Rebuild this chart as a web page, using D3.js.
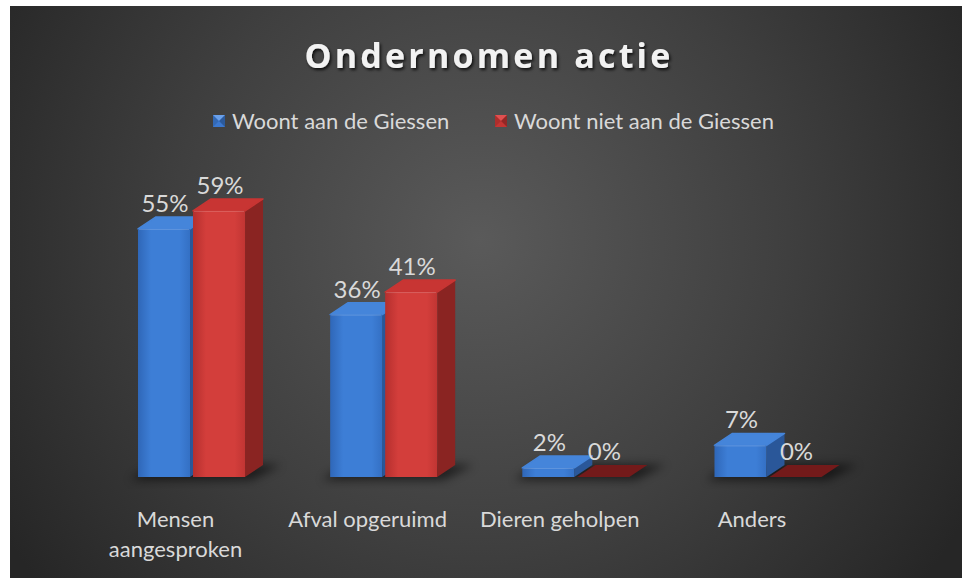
<!DOCTYPE html>
<html><head><meta charset="utf-8">
<script src="https://cdn.jsdelivr.net/npm/d3@7/dist/d3.min.js"></script>
<style>html,body{margin:0;padding:0;background:#fff;}svg{display:block;}</style>
</head><body><svg id="c" width="963" height="578"></svg>
<script>
const title = "Ondernomen actie";
const categories = [["Mensen","aangesproken"],["Afval opgeruimd"],["Dieren geholpen"],["Anders"]];
const seriesNames = ["Woont aan de Giessen","Woont niet aan de Giessen"];
const woontAan = [55, 36, 2, 7];
const woontNiet = [59, 41, 0, 0];
const seriesValues = [woontAan, woontNiet];

const FONT = "Lato, 'Liberation Sans', sans-serif";
const svg = d3.select("#c");
const defs = svg.append("defs");
const bg = defs.append("radialGradient").attr("id","bg").attr("gradientUnits","userSpaceOnUse")
  .attr("cx",480).attr("cy",240).attr("r",560);
bg.append("stop").attr("offset","0").attr("stop-color","#5a5a5a");
bg.append("stop").attr("offset","0.55").attr("stop-color","#3f3f3f");
bg.append("stop").attr("offset","1").attr("stop-color","#262626");
const blur = defs.append("filter").attr("id","blur").attr("x","-50%").attr("y","-50%").attr("width","200%").attr("height","200%");
blur.append("feGaussianBlur").attr("stdDeviation",5);
const ts = defs.append("filter").attr("id","tshadow").attr("x","-10%").attr("y","-30%").attr("width","120%").attr("height","160%");
ts.append("feDropShadow").attr("dx",1.5).attr("dy",2).attr("stdDeviation",1.5).attr("flood-color","#000").attr("flood-opacity",0.8);

const pal = [
  {front:["#2f67b8","#3d7ed6","#3470c4"], top:"#4585da", side:"#2a5799", flat:"#2a5fa8", leg:"#3b78cf", hi:"#6aa0ea"},
  {front:["#b52f2e","#d33e3b","#c13533"], top:"#c83533", side:"#8a2422", flat:"#731a1a", leg:"#c53533", hi:"#e05050"}
];
pal.forEach((p,i)=>{
  const g = defs.append("linearGradient").attr("id","fg"+i).attr("x1",0).attr("x2",1).attr("y1",0).attr("y2",0);
  g.append("stop").attr("offset","0").attr("stop-color",p.front[0]);
  g.append("stop").attr("offset","0.25").attr("stop-color",p.front[1]);
  g.append("stop").attr("offset","0.8").attr("stop-color",p.front[1]);
  g.append("stop").attr("offset","1").attr("stop-color",p.front[2]);
});

svg.append("rect").attr("x",10).attr("y",6).attr("width",952).attr("height",572).attr("fill","url(#bg)");

// title
svg.append("text").attr("x",489).attr("y",68).attr("text-anchor","middle")
  .attr("font-family","'Open Sans', 'Liberation Sans', sans-serif").attr("font-weight","bold")
  .attr("font-size",34).attr("letter-spacing","3.2px").attr("fill","#f2f2f2")
  .attr("filter","url(#tshadow)").text(title);

// legend
const legX = [213, 495];
seriesNames.forEach((n,i)=>{
  const g = svg.append("g").attr("transform",`translate(${legX[i]},115)`);
  g.append("rect").attr("width",12).attr("height",12).attr("fill",pal[i].leg);
  g.append("path").attr("d","M0,0L12,0L6,6Z").attr("fill",pal[i].hi);
  g.append("path").attr("d","M0,0L6,6L0,12Z").attr("fill","#000").attr("opacity",0.12);
  g.append("path").attr("d","M12,0L6,6L12,12Z").attr("fill","#000").attr("opacity",0.25);
  g.append("text").attr("x",19).attr("y",13.5).attr("font-family",FONT)
    .attr("font-size",22).attr("fill","#d9d9d9").text(n);
});

// scales
const x = d3.scaleBand().domain(d3.range(categories.length)).range([138, 821.5]).paddingInner(0.443).paddingOuter(0);
const xs = d3.scaleBand().domain(d3.range(seriesNames.length)).range([0, x.bandwidth()]).paddingInner(3/55);
const y = d3.scaleLinear().domain([0, 60]).range([477, 206.4]);
const dx = 18, dy = 12;

// floor shadows
categories.forEach((c,ci)=>{
  const x0 = x(ci), x1 = x(ci)+x.bandwidth();
  svg.append("path").attr("d",`M${x0-8},${y(0)+3}L${x1+6},${y(0)+3}L${x1+dx+18},${y(0)-dy}L${x0+dx},${y(0)-dy-2}Z`)
    .attr("fill","#000").attr("opacity",0.55).attr("filter","url(#blur)");
});

const bars = svg.append("g");
categories.forEach((c,ci)=>{
  seriesValues.forEach((vals,si)=>{
    const v = vals[ci];
    const bx = x(ci)+xs(si), bw = xs.bandwidth();
    const y0 = y(0), y1 = y(v);
    const p = pal[si];
    const g = bars.append("g");
    if (v === 0) {
      g.append("path").attr("d",`M${bx},${y0}L${bx+bw},${y0}L${bx+bw+dx},${y0-dy}L${bx+dx},${y0-dy}Z`).attr("fill",p.flat);
    } else {
      g.append("path").attr("d",`M${bx+bw},${y0}L${bx+bw+dx},${y0-dy}L${bx+bw+dx},${y1-dy}L${bx+bw},${y1}Z`).attr("fill",p.side);
      g.append("path").attr("d",`M${bx},${y1}L${bx+bw},${y1}L${bx+bw+dx},${y1-dy}L${bx+dx},${y1-dy}Z`)
        .attr("fill",p.top).attr("stroke",p.top).attr("stroke-width",1.5).attr("stroke-linejoin","round");
      g.append("rect").attr("x",bx).attr("y",y1).attr("width",bw).attr("height",y0-y1).attr("fill",`url(#fg${si})`);
      g.append("line").attr("x1",bx+1).attr("x2",bx+bw-1).attr("y1",y1+0.5).attr("y2",y1+0.5)
        .attr("stroke","#fff").attr("stroke-opacity",0.18);
    }
    svg.append("text").attr("x",bx+bw/2+1).attr("y",y1-dy-5).attr("text-anchor","middle")
      .attr("font-family",FONT).attr("font-size",24).attr("fill","#d9d9d9")
      .text(v+"%");
  });
});

// category labels
categories.forEach((lines,ci)=>{
  const cx = x(ci)+x.bandwidth()/2 - 16;
  const t = svg.append("text").attr("font-family",FONT).attr("font-size",22).attr("fill","#d9d9d9")
    .attr("text-anchor","middle");
  lines.forEach((l,li)=>t.append("tspan").attr("x",cx).attr("y",527+li*30).text(l));
});
</script></body></html>
